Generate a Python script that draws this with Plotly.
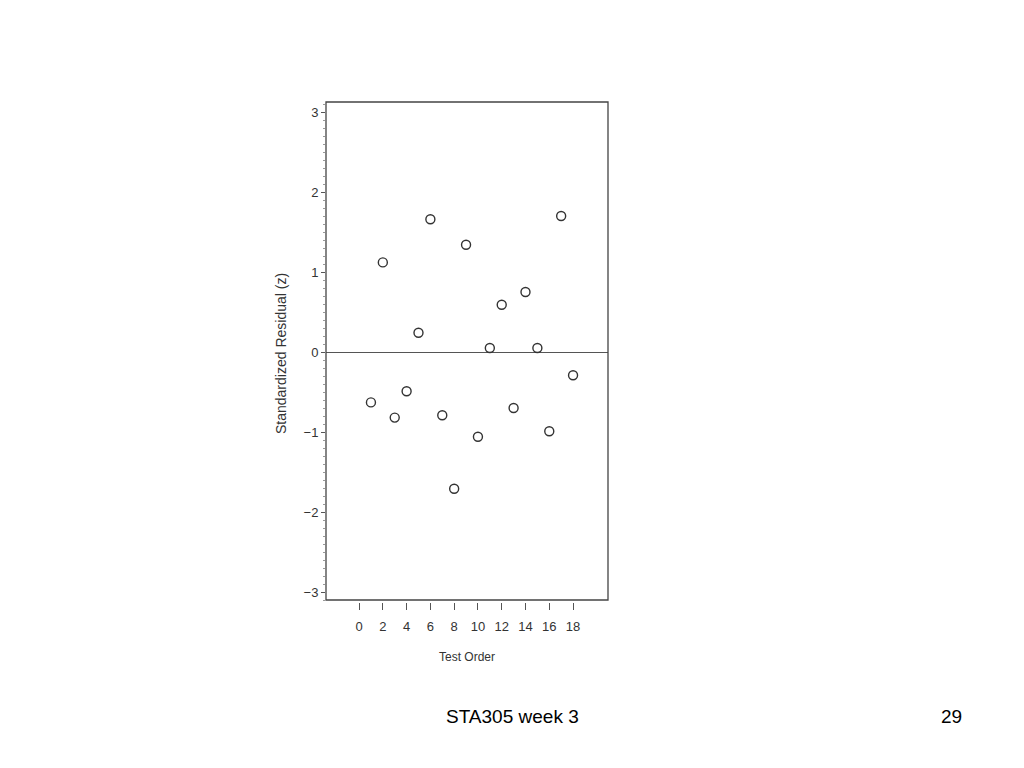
import plotly.graph_objects as go

test_order = list(range(1, 19))
std_residual = [-0.63, 1.12, -0.82, -0.49, 0.24, 1.66, -0.79, -1.71, 1.34,
                -1.06, 0.05, 0.59, -0.70, 0.75, 0.05, -0.99, 1.70, -0.29]
x_ticks = [0, 2, 4, 6, 8, 10, 12, 14, 16, 18]
y_ticks = [-3, -2, -1, 0, 1, 2, 3]

OFF = 8  # page body margin
W, H = 1024, 768
L, R, T = 326 - OFF, 416 + OFF, 102 - OFF
B = 148 + OFF
plot_h = H - T - B
plot_w = W - L - R


def px_x(x):
    return (x - OFF - L) / plot_w


def px_y(y):
    return (H - B - (y - OFF)) / plot_h


y_dom0 = px_y(600)
x_pos = px_y(602)

fig = go.Figure()
fig.add_trace(go.Scatter(
    x=test_order, y=std_residual, mode="markers",
    marker=dict(symbol="circle-open", size=9, color="#333333",
                line=dict(width=1.4, color="#333333")),
    showlegend=False,
))

font_ax = dict(family="Liberation Sans Narrow, Liberation Sans, Arial, sans-serif", size=13, color="#333333")
font_t = dict(family="Liberation Sans Narrow, Liberation Sans, Arial, sans-serif", size=12, color="#333333")

fig.update_layout(
    width=W, height=H, autosize=False,
    margin=dict(l=L, r=R, t=T, b=B, pad=0),
    paper_bgcolor="white", plot_bgcolor="white",
    xaxis=dict(
        range=[-2.78, 20.94], tickvals=x_ticks, ticktext=[str(v) for v in x_ticks],
        anchor="free", position=x_pos,
        showline=False, showgrid=False, zeroline=False,
        ticks="outside", ticklen=7, tickwidth=1.2, tickcolor="#555555",
        tickfont=font_ax, ticklabelstandoff=5,
    ),
    yaxis=dict(
        range=[-3.1, 3.125], tickvals=y_ticks, domain=[y_dom0, 1],
        showline=False, showgrid=False,
        zeroline=True, zerolinecolor="#555555", zerolinewidth=1,
        ticks="outside", ticklen=4, tickwidth=1, tickcolor="#555555",
        tickfont=font_ax,
        minor=dict(dtick=0.1, ticks="outside", ticklen=2, tickcolor="#999999", tickwidth=1),
    ),
    shapes=[dict(type="rect", xref="x domain", yref="y domain", x0=0, x1=1, y0=0, y1=1,
                 line=dict(color="#444444", width=1.3), layer="above")],
    annotations=[
        dict(text="Standardized Residual (z)", textangle=-90, xref="paper", yref="paper",
             x=px_x(281), y=px_y(354), showarrow=False,
             xanchor="center", yanchor="middle",
             font=dict(family="Liberation Sans, Arial, sans-serif", size=14, color="#333333")),
        dict(text="Test Order", xref="paper", yref="paper",
             x=px_x(467), y=px_y(657), showarrow=False,
             xanchor="center", yanchor="middle", font=font_t),
        dict(text="STA305 week 3", xref="paper", yref="paper",
             x=px_x(512), y=px_y(716), showarrow=False,
             xanchor="center", yanchor="middle",
             font=dict(family="Liberation Sans, Arial, sans-serif", size=19, color="black")),
        dict(text="29", xref="paper", yref="paper",
             x=px_x(951.5), y=px_y(716), showarrow=False,
             xanchor="center", yanchor="middle",
             font=dict(family="Liberation Sans, Arial, sans-serif", size=19, color="black")),
    ],
)

fig.write_html("out.html")
